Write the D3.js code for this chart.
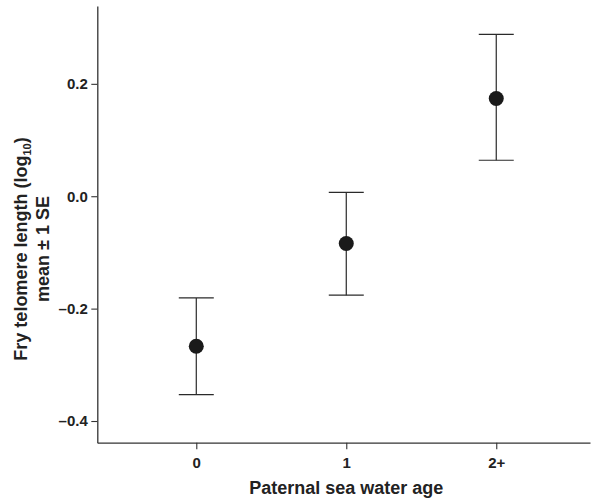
<!DOCTYPE html>
<html>
<head>
<meta charset="utf-8">
<script src="https://cdn.jsdelivr.net/npm/d3@7"></script>
<style>
  html, body { margin: 0; padding: 0; background: #fff; }
  svg { display: block; font-family: "Liberation Sans", Arial, Helvetica, sans-serif; }
</style>
</head>
<body>
<svg id="chart" width="591" height="498"></svg>
<script>
// Data
const categories = ["0", "1", "2+"];
const categoryPos = [0, 1, 2];
const means = [-0.267, -0.084, 0.174];
const upper = [-0.181, 0.007, 0.288];
const lower = [-0.353, -0.176, 0.064];
const yTicks = [-0.4, -0.2, 0.0, 0.2];

const svg = d3.select("#chart");
const margin = { left: 97.3, top: 6, right: 1, bottom: 55.3 };
const W = 591, H = 498;
const iw = W - margin.left - margin.right;
const ih = H - margin.top - margin.bottom;

const x = d3.scaleLinear().domain([-0.66, 2.625]).range([0, iw]);
const y = d3.scaleLinear().domain([-0.4386, 0.3385]).range([ih, 0]);

const g = svg.append("g").attr("transform", `translate(${margin.left},${margin.top})`);

const fmt = v => (v < 0 ? "\u2013" : "") + d3.format(".1f")(Math.abs(v));

// Y axis
const yAxis = g.append("g")
  .call(d3.axisLeft(y).tickValues(yTicks).tickFormat(fmt).tickSize(6).tickPadding(3.5).tickSizeOuter(0));
yAxis.select(".domain").attr("stroke", "#333").attr("stroke-width", 1.3);
yAxis.selectAll(".tick line").attr("stroke", "#333").attr("stroke-width", 1.1);
yAxis.selectAll(".tick text")
  .attr("fill", "#222").attr("font-size", 15).attr("font-weight", "bold")
  .attr("font-family", "Liberation Sans, Arial, sans-serif");

// X axis
const xAxis = g.append("g").attr("transform", `translate(0,${ih})`)
  .call(d3.axisBottom(x).tickValues(categoryPos).tickFormat((d, i) => categories[i]).tickSize(6.5).tickPadding(8).tickSizeOuter(0));
xAxis.select(".domain").attr("stroke", "#333").attr("stroke-width", 1.3);
xAxis.selectAll(".tick line").attr("stroke", "#333").attr("stroke-width", 1.1);
xAxis.selectAll(".tick text")
  .attr("fill", "#222").attr("font-size", 15).attr("font-weight", "bold")
  .attr("font-family", "Liberation Sans, Arial, sans-serif");

// Error bars
const data = categories.map((c, i) => ({ c, p: categoryPos[i], m: means[i], lo: lower[i], hi: upper[i] }));
const capHalf = 17.5;
const eb = g.append("g").attr("stroke", "#2a2a2a").attr("stroke-width", 1.2).attr("fill", "none");
eb.selectAll(".v").data(data).join("line")
  .attr("x1", d => x(d.p)).attr("x2", d => x(d.p))
  .attr("y1", d => y(d.lo)).attr("y2", d => y(d.hi));
eb.selectAll(".ct").data(data).join("line")
  .attr("x1", d => x(d.p) - capHalf).attr("x2", d => x(d.p) + capHalf)
  .attr("y1", d => y(d.hi)).attr("y2", d => y(d.hi));
eb.selectAll(".cb").data(data).join("line")
  .attr("x1", d => x(d.p) - capHalf).attr("x2", d => x(d.p) + capHalf)
  .attr("y1", d => y(d.lo)).attr("y2", d => y(d.lo));

// Points
g.append("g").selectAll("circle").data(data).join("circle")
  .attr("cx", d => x(d.p)).attr("cy", d => y(d.m)).attr("r", 7.5)
  .attr("fill", "#1a1a1a");

// X title
svg.append("text")
  .attr("x", margin.left + x(1)).attr("y", 494)
  .attr("text-anchor", "middle").attr("font-size", 18).attr("font-weight", "bold").attr("fill", "#222")
  .text("Paternal sea water age");

// Y title (two lines, rotated)
const yt = svg.append("text")
  .attr("transform", "translate(0,249) rotate(-90)")
  .attr("text-anchor", "middle").attr("font-size", 18).attr("font-weight", "bold").attr("fill", "#222");
const l1 = yt.append("tspan").attr("x", 0).attr("y", 26.7);
l1.append("tspan").text("Fry telomere length (log");
l1.append("tspan").attr("font-size", 11).attr("dy", 4).text("10");
l1.append("tspan").attr("dy", -4).text(")");
yt.append("tspan").attr("x", 0).attr("y", 49.3).text("mean \u00b1 1 SE");
</script>
</body>
</html>
